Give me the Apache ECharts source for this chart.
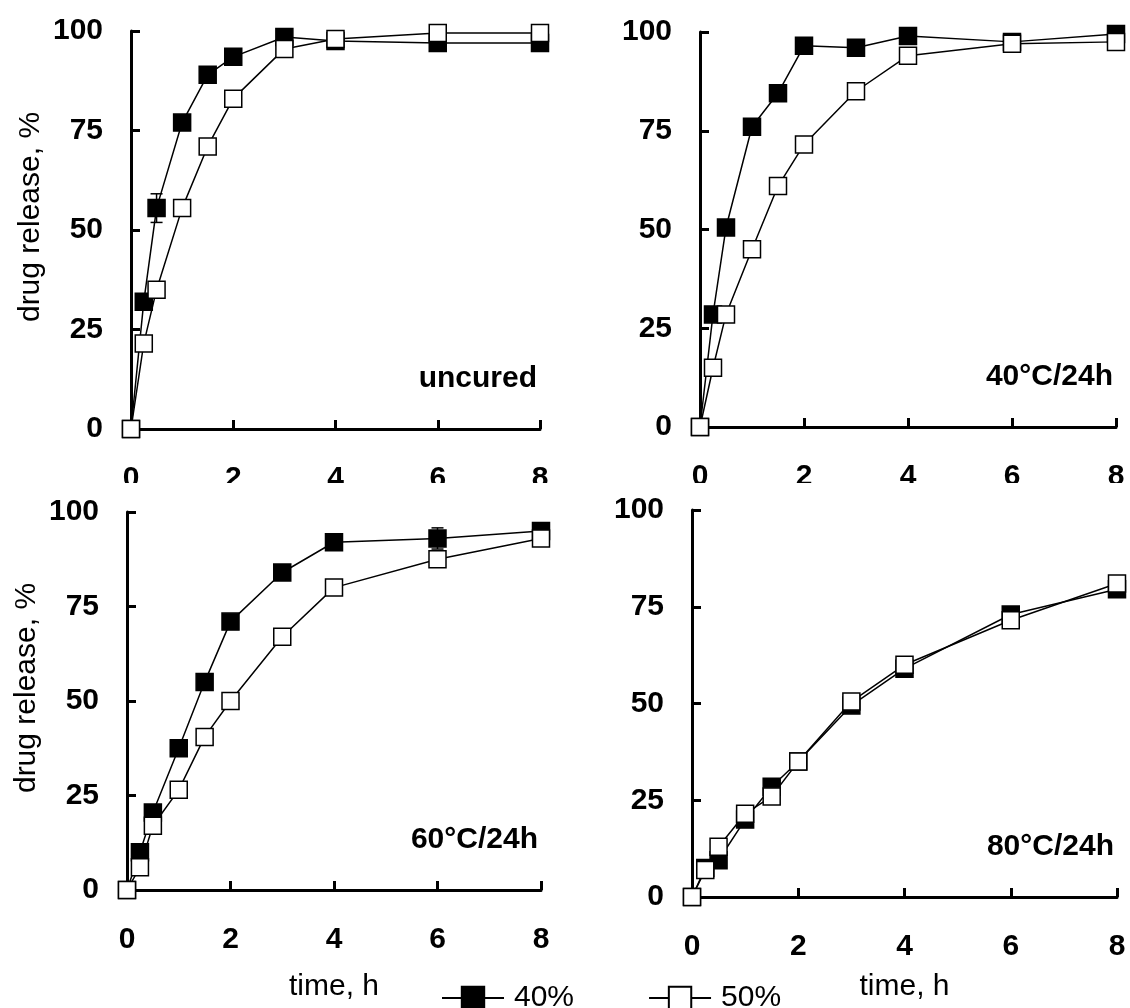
<!DOCTYPE html>
<html>
<head>
<meta charset="utf-8">
<script src="https://cdn.jsdelivr.net/npm/echarts@6/dist/echarts.min.js"></script>
<style>
  html, body { margin: 0; padding: 0; background: #fff; }
  #chart { width: 1130px; height: 1008px; }
</style>
</head>
<body>
<div id="chart"></div>
<script>
// Sampling times (h)
const times = [0, 0.25, 0.5, 1, 1.5, 2, 3, 4, 6, 8];

// Cumulative drug release (%) for 40% and 50% formulations, per curing condition
const uncured40   = [0, 32, 55.5, 77, 89, 93.5, 98.5, 97.5, 97, 97];
const uncured50   = [0, 21.5, 35, 55.5, 71, 83, 95.5, 98, 99.5, 99.5];
const cured40C_40 = [0, 28.5, 50.5, 76, 84.5, 96.5, 96, 99, 97.5, 99.5];
const cured40C_50 = [0, 15, 28.5, 45, 61, 71.5, 85, 94, 97, 97.5];
const cured60C_40 = [0, 10, 20.5, 37.5, 55, 71, 84, 92, 93, 95];
const cured60C_50 = [0, 6, 17, 26.5, 40.5, 50, 67, 80, 87.5, 93];
const cured80C_40 = [0, 7.5, 9.5, 20, 28.5, 35, 49.5, 59, 73, 79.5];
const cured80C_50 = [0, 7, 13, 21.5, 26, 35, 50.5, 60, 71.5, 81];

// Standard deviations (only the ones that stick out from behind the markers)
const uncured40Err   = [0, 0, 3.6, 0, 0, 0, 0, 0, 0, 0];
const cured60C_40Err = [0, 0, 0, 0, 0, 0, 0, 0, 2.8, 0];
const zeroErr        = [0, 0, 0, 0, 0, 0, 0, 0, 0, 0];

const panelNames  = ['uncured', '40°C/24h', '60°C/24h', '80°C/24h'];
const seriesNames = ['40%', '50%'];
const yName = 'drug release, %';
const xName = 'time, h';

const panels = [
  { name: panelNames[0], s40: uncured40,   s50: uncured50,   err40: uncured40Err },
  { name: panelNames[1], s40: cured40C_40, s50: cured40C_50, err40: zeroErr },
  { name: panelNames[2], s40: cured60C_40, s50: cured60C_50, err40: cured60C_40Err },
  { name: panelNames[3], s40: cured80C_40, s50: cured80C_50, err40: zeroErr }
];

const FONT = "'Liberation Sans', Arial, Helvetica, sans-serif";

// plotting areas of the four panels
const grids = [
  { left: 131, top: 31,  width: 409, height: 398 },
  { left: 700, top: 32,  width: 416, height: 395 },
  { left: 127, top: 512, width: 414, height: 378 },
  { left: 692, top: 510, width: 425, height: 387 }
];
const xNameGaps = [0, 0, 82, 75];

const axisLine = { show: true, onZero: false, lineStyle: { color: '#000', width: 3 } };
const axisTick = { show: true, inside: true, length: 9, lineStyle: { color: '#000', width: 3 } };
const tickFont = { fontSize: 30, fontWeight: 'bold', color: '#000', fontFamily: FONT };

const xAxes = grids.map((g, i) => ({
  gridIndex: i, type: 'value', min: 0, max: 8, interval: 2,
  axisLine, axisTick, splitLine: { show: false },
  axisLabel: Object.assign({ margin: 35 }, tickFont),
  name: i >= 2 ? xName : '',
  nameLocation: 'middle', nameGap: xNameGaps[i],
  nameTextStyle: { fontSize: 30, color: '#000', fontFamily: FONT }
}));

const yAxes = grids.map((g, i) => ({
  gridIndex: i, type: 'value', min: 0, max: 100, interval: 25,
  axisLine, axisTick, splitLine: { show: false },
  axisLabel: Object.assign({ margin: 28 }, tickFont),
  name: i % 2 === 0 ? yName : '',
  nameLocation: 'middle', nameRotate: 90, nameGap: 85,
  nameTextStyle: { fontSize: 30, color: '#000', fontFamily: FONT, padding: [0, 0, 0, 26] }
}));

const zip = (xs, ys) => xs.map((x, k) => [x, ys[k]]);

const series = [];
panels.forEach((p, i) => {
  // error bars sit behind the markers
  const errRows = times.map((t, k) => [t, p.s40[k], p.err40[k]]).filter(r => r[2] > 0);
  if (errRows.length) {
    series.push({
      type: 'custom', xAxisIndex: i, yAxisIndex: i, silent: true, z: 2, clip: false,
      data: errRows,
      renderItem: (params, api) => {
        const x = api.value(0), y = api.value(1), e = api.value(2);
        const top = api.coord([x, y + e]);
        const bot = api.coord([x, y - e]);
        const hw = 6;
        const st = { stroke: '#000', lineWidth: 1.5 };
        return {
          type: 'group',
          children: [
            { type: 'line', shape: { x1: top[0], y1: top[1], x2: bot[0], y2: bot[1] }, style: st },
            { type: 'line', shape: { x1: top[0] - hw, y1: top[1], x2: top[0] + hw, y2: top[1] }, style: st },
            { type: 'line', shape: { x1: bot[0] - hw, y1: bot[1], x2: bot[0] + hw, y2: bot[1] }, style: st }
          ]
        };
      }
    });
  }
  series.push({
    type: 'line', name: seriesNames[0], xAxisIndex: i, yAxisIndex: i,
    data: zip(times, p.s40), clip: false, z: 3,
    symbol: 'rect', symbolSize: 17,
    lineStyle: { color: '#000', width: 1.5 },
    itemStyle: { color: '#000', borderColor: '#000', borderWidth: 1.5 },
    emphasis: { disabled: true }
  });
  series.push({
    type: 'line', name: seriesNames[1], xAxisIndex: i, yAxisIndex: i,
    data: zip(times, p.s50), clip: false, z: 4,
    symbol: 'rect', symbolSize: 17,
    lineStyle: { color: '#000', width: 1.5 },
    itemStyle: { color: '#fff', borderColor: '#000', borderWidth: 1.5 },
    emphasis: { disabled: true }
  });
});

// panel captions, bottom-right inside each plot
const captions = grids.map((g, i) => ({
  type: 'text', z: 50,
  x: g.left + g.width - 3,
  y: g.top + g.height - 50,
  style: {
    text: panels[i].name, fill: '#000',
    font: 'bold 30px ' + FONT,
    align: 'right', verticalAlign: 'middle'
  }
}));

const chart = echarts.init(document.getElementById('chart'), null, { renderer: 'canvas' });
chart.setOption({
  backgroundColor: '#fff',
  animation: false,
  grid: grids,
  xAxis: xAxes,
  yAxis: yAxes,
  legend: {
    data: seriesNames,
    left: 436, top: 978,
    itemWidth: 62, itemHeight: 28, itemGap: 74,
    selectedMode: false,
    textStyle: { fontSize: 30, color: '#000', fontFamily: FONT, padding: [0, 0, 0, 5] }
  },
  series,
  graphic: captions.concat([
    // the lower panels sit over the foot of the upper tick labels
    { type: 'rect', z: 100, silent: true, shape: { x: 0, y: 483, width: 1130, height: 15 }, style: { fill: '#fff' } }
  ])
});
</script>
</body>
</html>
